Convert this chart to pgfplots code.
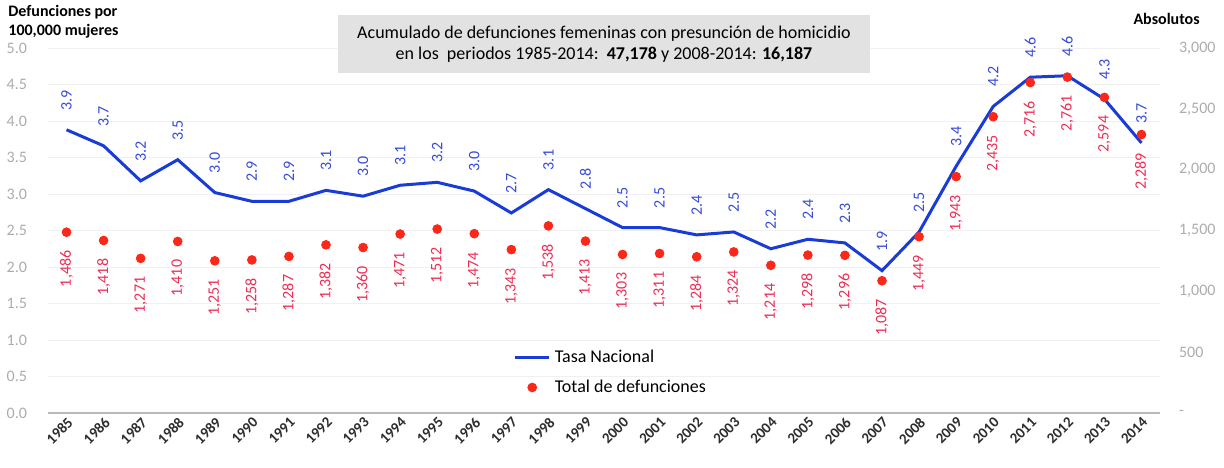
\documentclass[border=0pt]{standalone}
\usepackage{pgfplots}
\pgfplotsset{compat=1.18}
\usepackage{pgfplotstable}
\usepackage{fontspec}
\setmainfont{Carlito}
\definecolor{lineblue}{RGB}{25,60,215}
\definecolor{lblblue}{RGB}{55,75,215}
\definecolor{dotred}{RGB}{250,40,25}
\definecolor{lblred}{RGB}{238,45,85}
\definecolor{tickgray}{RGB}{172,172,172}
\definecolor{boxgray}{RGB}{226,226,226}
\definecolor{yeargray}{RGB}{45,45,45}

\pgfplotstableread{
year rate lab
1985 3.88 3.9
1986 3.66 3.7
1987 3.18 3.2
1988 3.47 3.5
1989 3.02 3.0
1990 2.90 2.9
1991 2.90 2.9
1992 3.05 3.1
1993 2.97 3.0
1994 3.12 3.1
1995 3.16 3.2
1996 3.04 3.0
1997 2.74 2.7
1998 3.06 3.1
1999 2.80 2.8
2000 2.54 2.5
2001 2.54 2.5
2002 2.44 2.4
2003 2.48 2.5
2004 2.25 2.2
2005 2.38 2.4
2006 2.33 2.3
2007 1.95 1.9
2008 2.48 2.5
2009 3.38 3.4
2010 4.20 4.2
2011 4.60 4.6
2012 4.62 4.6
2013 4.30 4.3
2014 3.70 3.7
}\ratetab

\pgfplotstableread{
year total lab
1985 1486 1,486
1986 1418 1,418
1987 1271 1,271
1988 1410 1,410
1989 1251 1,251
1990 1258 1,258
1991 1287 1,287
1992 1382 1,382
1993 1360 1,360
1994 1471 1,471
1995 1512 1,512
1996 1474 1,474
1997 1343 1,343
1998 1538 1,538
1999 1413 1,413
2000 1303 1,303
2001 1311 1,311
2002 1284 1,284
2003 1324 1,324
2004 1214 1,214
2005 1298 1,298
2006 1296 1,296
2007 1087 1,087
2008 1449 1,449
2009 1943 1,943
2010 2435 2,435
2011 2716 2,716
2012 2761 2,761
2013 2594 2,594
2014 2289 2,289
}\totaltab

\begin{document}
\begin{tikzpicture}
\useasboundingbox (0,0) rectangle (612pt,233.5pt);
\begin{axis}[
  at={(24pt,27pt)}, anchor=south west,
  scale only axis, width=556pt, height=182.5pt,
  xmin=1984.5, xmax=2014.5, ymin=0, ymax=5,
  xtick={1985,...,2014},
  ytick={0,0.5,1,1.5,2,2.5,3,3.5,4,4.5,5},
  major tick length=0pt,
  axis x line*=bottom, axis y line*=left,
  x axis line style={draw=gray!55, line width=0.6pt, -},
  y axis line style={draw=none},
  ymajorgrids, major grid style={draw=gray!12, line width=0.4pt},
  /pgf/number format/assume math mode=true,
  xticklabel style={rotate=45, anchor=north east, inner sep=1pt, font=\fontsize{7.5pt}{8pt}\selectfont\bfseries, text=yeargray, /pgf/number format/1000 sep={}},
  yticklabel style={font=\fontsize{8pt}{9pt}\selectfont, text=tickgray, xshift=-7pt,
     /pgf/number format/.cd, fixed, fixed zerofill, precision=1},
  clip=false,
  legend style={at={(0.413,0.195)}, anchor=north west, draw=none, fill=none,
     font=\fontsize{9pt}{10pt}\selectfont, row sep=3pt},
  legend cell align=left,
]
\addplot[color=lineblue, line width=1.5pt, mark=none,
  nodes near coords, point meta=explicit symbolic,
  every node near coord/.append style={rotate=90, anchor=west, inner xsep=9pt, inner ysep=0pt,
     font=\fontsize{8pt}{9pt}\selectfont, text=lblblue}]
  table[x=year, y=rate, meta=lab] {\ratetab};
\addlegendentry{Tasa Nacional}
\addlegendimage{only marks, mark=*, mark size=2.2pt, color=dotred}
\addlegendentry{Total de defunciones}
\end{axis}

\begin{axis}[
  at={(24pt,27pt)}, anchor=south west,
  scale only axis, width=556pt, height=182.5pt,
  xmin=1984.5, xmax=2014.5, ymin=0, ymax=3000,
  hide x axis,
  axis y line*=right,
  y axis line style={draw=none},
  major tick length=0pt,
  ytick={0,500,1000,1500,2000,2500,3000},
  yticklabels={{-},{500},{1,000},{1,500},{2,000},{2,500},{3,000}},
  yticklabel style={font=\fontsize{8pt}{9pt}\selectfont, text=tickgray, xshift=6pt},
  clip=false,
]
\addplot[only marks, mark=*, mark size=2.2pt, color=dotred,
  nodes near coords, point meta=explicit symbolic,
  every node near coord/.append style={rotate=90, anchor=east, inner xsep=9pt, inner ysep=0pt,
     font=\fontsize{8pt}{9pt}\selectfont, text=lblred}]
  table[x=year, y=total, meta=lab] {\totaltab};
\end{axis}

\node[fill=boxgray, minimum width=266pt, minimum height=29pt, align=center,
  font=\fontsize{9pt}{10.5pt}\selectfont, inner sep=2pt] at (302pt,211.5pt)
  {Acumulado de defunciones femeninas con presunción de homicidio\\
   en los\ \ periodos 1985-2014:\ \ \textbf{47,178} y 2008-2014: \textbf{16,187}};
\node[anchor=north west, align=left, font=\fontsize{8pt}{9.6pt}\selectfont\bfseries, inner sep=0pt]
  at (4pt,231pt) {Defunciones por\\100,000 mujeres};
\node[anchor=north east, font=\fontsize{8pt}{9.6pt}\selectfont\bfseries, inner sep=0pt]
  at (600pt,227pt) {Absolutos};
\end{tikzpicture}
\end{document}
